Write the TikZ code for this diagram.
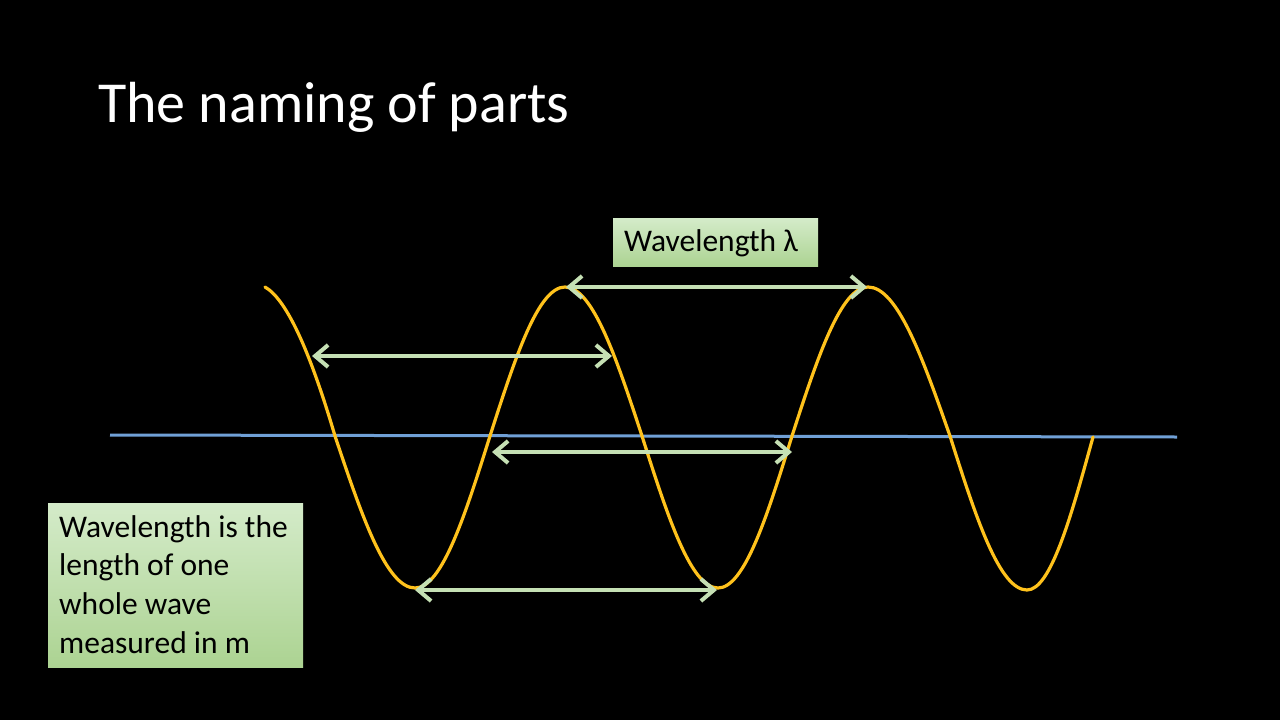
\documentclass[tikz,border=0pt]{standalone}
\usepackage{fontspec}
\setmainfont{Carlito}
\usetikzlibrary{arrows.meta}
\definecolor{wavecol}{RGB}{255,194,28}
\definecolor{axiscol}{RGB}{112,160,214}
\definecolor{arrcol}{RGB}{197,224,180}
\definecolor{boxtop}{RGB}{212,235,201}
\definecolor{boxbot}{RGB}{172,211,146}
\tikzset{
  greenbox/.style={draw=none, top color=boxtop, bottom color=boxbot, inner sep=0pt, anchor=north west},
  bodytext/.style={font=\fontsize{31.5}{38.7}\selectfont, text=black, inner sep=0pt, align=left},
  dimarrow/.style={draw=arrcol, line width=4pt, {Straight Barb[length=13pt,width=22pt]}-{Straight Barb[length=13pt,width=22pt]}},
  wavepath/.style={draw=wavecol, line width=3.2pt, line cap=round},
  axispath/.style={draw=axiscol, line width=3pt}
}
\begin{document}
\begin{tikzpicture}[x=1pt,y=-1pt]
\fill[black] (0,0) rectangle (1280,720);
\useasboundingbox (0,0) rectangle (1280,720);

% title
\node[anchor=base west, inner sep=0pt, text=white, font=\fontsize{58}{60}\selectfont] (title) at (98,122) {The naming of parts};

% axis
\coordinate (axL) at (110,435);
\coordinate (axR) at (1177,437);
\draw[axispath] (axL) -- (axR);

% wave
\draw[wavepath] (265,287)
  .. controls (288,300) and (312,358) .. (335,436)
  .. controls (361.7,515.8) and (386.4,588) .. (415,588)
  .. controls (441.9,588) and (464.9,515.8) .. (490,436)
  .. controls (515.1,357.8) and (538.1,287) .. (565,287)
  .. controls (592.6,287) and (616.3,357.8) .. (642,436)
  .. controls (667.4,515.8) and (690.8,588) .. (718,588)
  .. controls (744.5,588) and (767.3,515.8) .. (792,436)
  .. controls (817.4,357.8) and (840.8,287) .. (868,287)
  .. controls (897.4,287) and (922.6,357.8) .. (950,436)
  .. controls (975.7,516.9) and (999.4,590) .. (1027,590)
  .. controls (1050.6,590) and (1070.9,517.3) .. (1093,437);

% wavelength arrows
\coordinate (a1L) at (566,287);
\coordinate (a1R) at (867,287);
\coordinate (a2L) at (312,356);
\coordinate (a2R) at (612,356);
\coordinate (a3L) at (492,452);
\coordinate (a3R) at (792,452);
\coordinate (a4L) at (415,590);
\coordinate (a4R) at (717,590);
\draw[dimarrow] (a1L) -- (a1R);
\draw[dimarrow] (a2L) -- (a2R);
\draw[dimarrow] (a3L) -- (a3R);
\draw[dimarrow] (a4L) -- (a4R);

% label box
\node[greenbox, minimum width=205pt, minimum height=48pt] (lblbox) at (613,218) {};
\node[bodytext, anchor=base west] (lbl) at (624,251) {Wavelength λ};

% description box
\node[greenbox, minimum width=255pt, minimum height=164pt] (descbox) at (48,503) {};
\node[bodytext, anchor=north west] (desc) at (59,515) {Wavelength is the\\length of one\\whole wave\\measured in m};
\end{tikzpicture}
\end{document}
